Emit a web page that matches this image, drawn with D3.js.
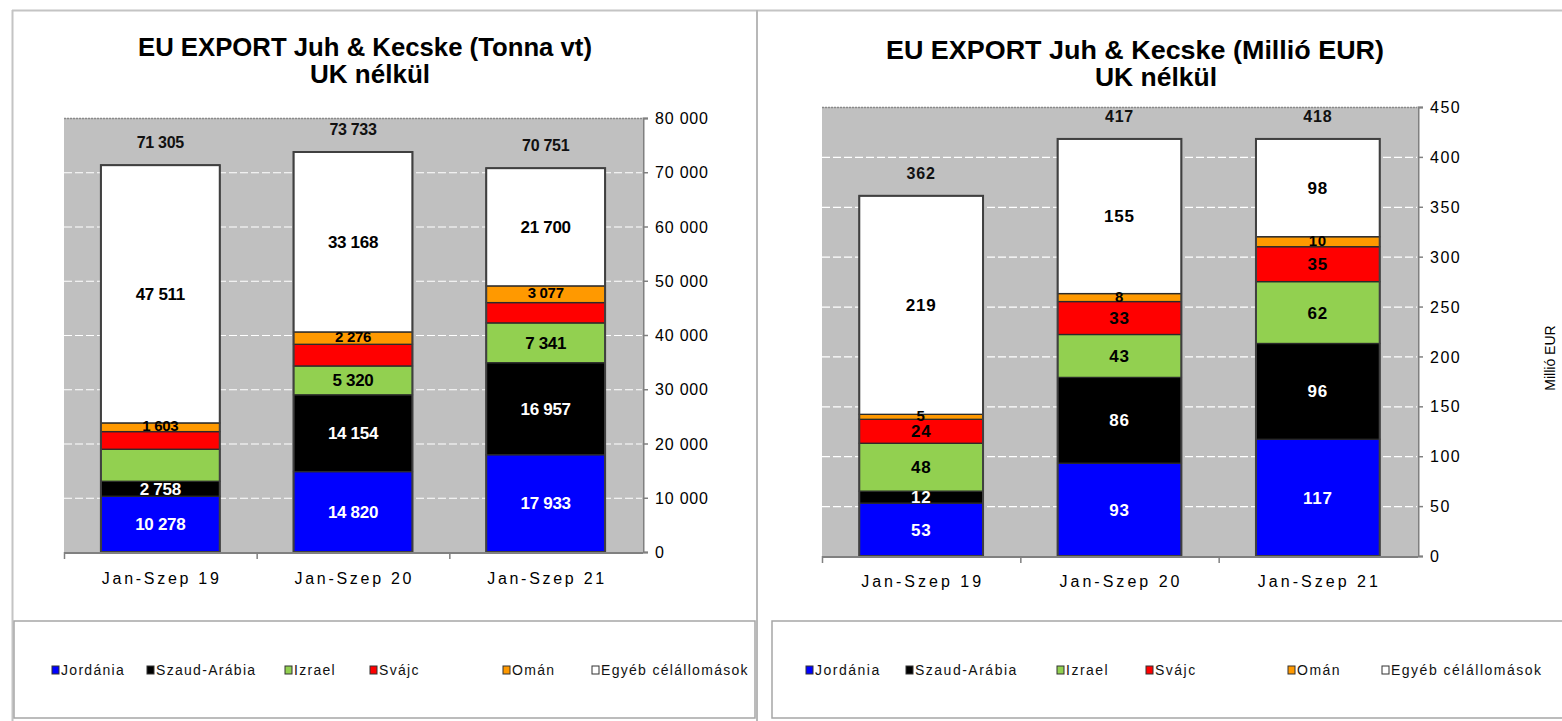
<!DOCTYPE html>
<html>
<head>
<meta charset="utf-8">
<script src="https://cdn.jsdelivr.net/npm/d3@7"></script>
<style>
html,body{margin:0;padding:0;background:#fff;}
svg{display:block;font-family:"Liberation Sans",Arial,sans-serif;}
</style>
</head>
<body>
<svg id="c" width="1562" height="721"></svg>
<script>
// ---------- DATA ----------
const categories = ["Jan-Szep 19", "Jan-Szep 20", "Jan-Szep 21"];
const seriesNames = ["Jordánia", "Szaud-Arábia", "Izrael", "Svájc", "Omán", "Egyéb célállomások"];
const seriesColors = ["#0000ff", "#000000", "#92d050", "#ff0000", "#ff9900", "#ffffff"];
const labelColors = ["#ffffff", "#ffffff", "#000000", "#000000", "#000000", "#000000"];

// Tonna vt
const tonJordania = [10278, 14820, 17933];
const tonSzaudArabia = [2758, 14154, 16957];
const tonIzrael = [5910, 5320, 7341];
const tonSvajc = [3245, 3995, 3743];
const tonOman = [1603, 2276, 3077];
const tonEgyeb = [47511, 33168, 21700];
const tonTotals = [71305, 73733, 70751];
const tonTicks = [0, 10000, 20000, 30000, 40000, 50000, 60000, 70000, 80000];
// segments whose value label is not shown in the reference: [series index, category index]
const tonHiddenLabels = [[2, 0], [3, 0], [3, 1], [3, 2]];

// Millió EUR
const eurJordania = [53, 93, 117];
const eurSzaudArabia = [12, 86, 96];
const eurIzrael = [48, 43, 62];
const eurSvajc = [24, 33, 35];
const eurOman = [5, 8, 10];
const eurEgyeb = [219, 155, 98];
const eurTotals = [362, 417, 418];
const eurTicks = [0, 50, 100, 150, 200, 250, 300, 350, 400, 450];
const eurHiddenLabels = [];

// ---------- RENDER ----------
const fmt = d3.formatLocale({decimal: ",", thousands: " ", grouping: [3], currency: ["", ""]}).format(",d");
const svg = d3.select("#c");

// panel frames
svg.append("line").attr("x1", 12).attr("x2", 1562).attr("y1", 10.5).attr("y2", 10.5).attr("stroke", "#c4c4c4").attr("stroke-width", 2);
svg.append("line").attr("x1", 12.5).attr("x2", 12.5).attr("y1", 10).attr("y2", 721).attr("stroke", "#c4c4c4").attr("stroke-width", 2);
svg.append("line").attr("x1", 757).attr("x2", 757).attr("y1", 10).attr("y2", 721).attr("stroke", "#b8b8b8").attr("stroke-width", 2);

function drawChart(cfg) {
  const series = cfg.series;
  const g = svg.append("g");
  const x = d3.scaleBand().domain(categories).range([cfg.left, cfg.right])
    .paddingInner(cfg.pad).paddingOuter(cfg.pad / 2);
  const y = d3.scaleLinear().domain([0, cfg.max]).range([cfg.bottom, cfg.top]);

  // plot area
  g.append("rect").attr("x", cfg.left).attr("y", cfg.top)
    .attr("width", cfg.right - cfg.left).attr("height", cfg.bottom - cfg.top).attr("fill", "#c0c0c0");
  // gridlines
  g.selectAll("line.grid").data(cfg.ticks.filter(t => t > 0 && t < cfg.max)).enter().append("line")
    .attr("x1", cfg.left).attr("x2", cfg.right).attr("y1", d => y(d) + 0.5).attr("y2", d => y(d) + 0.5)
    .attr("stroke", "#ffffff").attr("stroke-width", 1.2).attr("stroke-dasharray", "8,3");
  g.append("line").attr("x1", cfg.left).attr("x2", cfg.right).attr("y1", y(cfg.max) + 0.5).attr("y2", y(cfg.max) + 0.5)
    .attr("stroke", "#8a8a8a").attr("stroke-width", 1.5).attr("stroke-dasharray", "2,1");

  // stacks
  const rows = categories.map((c, i) => {
    const r = {cat: c, idx: i};
    series.forEach((s, k) => r[k] = s[i]);
    return r;
  });
  const stack = d3.stack().keys(series.map((s, k) => k))(rows);
  const hidden = new Set(cfg.hidden.map(h => h[0] + "_" + h[1]));

  stack.forEach((layer, k) => {
    g.selectAll(null).data(layer).enter().append("rect")
      .attr("x", d => x(d.data.cat)).attr("width", x.bandwidth())
      .attr("y", d => y(d[1])).attr("height", d => y(d[0]) - y(d[1]))
      .attr("fill", seriesColors[k]).attr("stroke", "#2a2a2a").attr("stroke-width", 1.3);
  });
  // outer bar outline
  g.selectAll(null).data(rows).enter().append("rect")
    .attr("x", d => x(d.cat)).attr("width", x.bandwidth())
    .attr("y", d => y(d3.sum(series, s => s[d.idx]))).attr("height", d => cfg.bottom - y(d3.sum(series, s => s[d.idx])))
    .attr("fill", "none").attr("stroke", "#404040").attr("stroke-width", 2);

  // value labels
  stack.forEach((layer, k) => {
    g.selectAll(null).data(layer.filter(d => !hidden.has(k + "_" + d.data.idx))).enter().append("text")
      .attr("x", d => x(d.data.cat) + x.bandwidth() / 2)
      .attr("y", d => (y(d[0]) + y(d[1])) / 2 + (k === 4 ? 4 : 6))
      .attr("text-anchor", "middle").attr("font-weight", "bold").attr("font-size", k === 4 ? 15 : 17)
      .attr("letter-spacing", cfg.valueSpacing)
      .attr("fill", labelColors[k]).text(d => fmt(d.data[k]));
  });
  // totals
  g.selectAll(null).data(cfg.totals).enter().append("text")
    .attr("x", (d, i) => x(categories[i]) + x.bandwidth() / 2)
    .attr("y", (d, i) => y(d3.sum(series, s => s[i])) - 17)
    .attr("text-anchor", "middle").attr("font-weight", "bold").attr("font-size", 16)
    .attr("letter-spacing", cfg.valueSpacing).attr("fill", "#111").text(d => fmt(d));

  // y axis (right)
  const yAxis = g.append("g").attr("transform", `translate(${cfg.right + 1},0)`)
    .call(d3.axisRight(y).tickValues(cfg.ticks).tickSize(5).tickPadding(7).tickFormat(fmt));
  yAxis.select(".domain").attr("stroke", "#808080").attr("stroke-width", 2);
  yAxis.selectAll(".tick line").attr("stroke", "#808080").attr("stroke-width", 1.5);
  yAxis.selectAll(".tick text").attr("font-size", 16).attr("font-family", "Liberation Sans, Arial, sans-serif")
    .attr("letter-spacing", cfg.tickSpacing).attr("fill", "#000").attr("dy", "0.35em");

  // x axis
  g.append("line").attr("x1", cfg.left).attr("x2", cfg.right + 1).attr("y1", cfg.bottom + 1).attr("y2", cfg.bottom + 1)
    .attr("stroke", "#808080").attr("stroke-width", 2);
  const seps = [cfg.left].concat(categories.slice(1).map(c => x(c) - x.step() * cfg.pad / 2));
  g.selectAll(null).data(seps).enter().append("line")
    .attr("x1", d => d + 0.5).attr("x2", d => d + 0.5).attr("y1", cfg.bottom).attr("y2", cfg.bottom + 7)
    .attr("stroke", "#808080").attr("stroke-width", 1.5);
  g.selectAll(null).data(categories).enter().append("text")
    .attr("x", d => x(d) + x.bandwidth() / 2).attr("y", cfg.catY)
    .attr("text-anchor", "middle").attr("font-size", 16).attr("fill", "#000")
    .attr("textLength", cfg.catWidth).attr("lengthAdjust", "spacing").text(d => d);

  // titles
  cfg.titles.forEach(t => {
    g.append("text").attr("x", t.x).attr("y", t.y).attr("text-anchor", "middle")
      .attr("font-weight", "bold").attr("font-size", 25).attr("fill", "#000")
      .attr("textLength", t.w).attr("lengthAdjust", "spacingAndGlyphs").text(t.text);
  });

  // axis title
  if (cfg.axisTitle) {
    g.append("text").attr("transform", `translate(${cfg.axisTitle.x},${cfg.axisTitle.y}) rotate(-90)`)
      .attr("text-anchor", "middle").attr("font-size", 14).attr("fill", "#000").text(cfg.axisTitle.text);
  }

  // legend
  const L = cfg.legend;
  g.append("rect").attr("x", L.x).attr("y", L.y).attr("width", L.w).attr("height", L.h)
    .attr("fill", "#fff").attr("stroke", "#a6a6a6").attr("stroke-width", 1.5);
  seriesNames.forEach((n, k) => {
    g.append("rect").attr("x", L.items[k]).attr("y", L.cy - 4).attr("width", 7).attr("height", 8)
      .attr("fill", seriesColors[k]).attr("stroke", "#333").attr("stroke-width", 1);
    g.append("text").attr("x", L.items[k] + 9).attr("y", L.cy + 5).attr("font-size", 14)
      .attr("letter-spacing", L.spacing).attr("fill", "#111").text(n);
  });
}

drawChart({
  series: [tonJordania, tonSzaudArabia, tonIzrael, tonSvajc, tonOman, tonEgyeb],
  totals: tonTotals, ticks: tonTicks, max: 80000, hidden: tonHiddenLabels,
  left: 64, right: 642, top: 118, bottom: 552, pad: 0.383,
  valueSpacing: -0.3, tickSpacing: 0.8, catY: 584, catWidth: 117,
  titles: [{text: "EU EXPORT Juh & Kecske (Tonna vt)", x: 365, y: 56, w: 454},
           {text: "UK nélkül", x: 370, y: 83, w: 120}],
  legend: {x: 14, y: 621, w: 741, h: 97, cy: 670, spacing: 1.3, items: [52, 147, 285, 370, 503, 592]}
});

drawChart({
  series: [eurJordania, eurSzaudArabia, eurIzrael, eurSvajc, eurOman, eurEgyeb],
  totals: eurTotals, ticks: eurTicks, max: 450, hidden: eurHiddenLabels,
  left: 822, right: 1417, top: 107, bottom: 556, pad: 0.376,
  valueSpacing: 0.8, tickSpacing: 1.5, catY: 587, catWidth: 120,
  titles: [{text: "EU EXPORT Juh & Kecske (Millió EUR)", x: 1135, y: 59, w: 498},
           {text: "UK nélkül", x: 1156, y: 86, w: 122}],
  axisTitle: {text: "Millió EUR", x: 1555, y: 358},
  legend: {x: 772, y: 621, w: 792, h: 97, cy: 670, spacing: 1.5, items: [806, 906, 1057, 1146, 1288, 1382]}
});
</script>
</body>
</html>
